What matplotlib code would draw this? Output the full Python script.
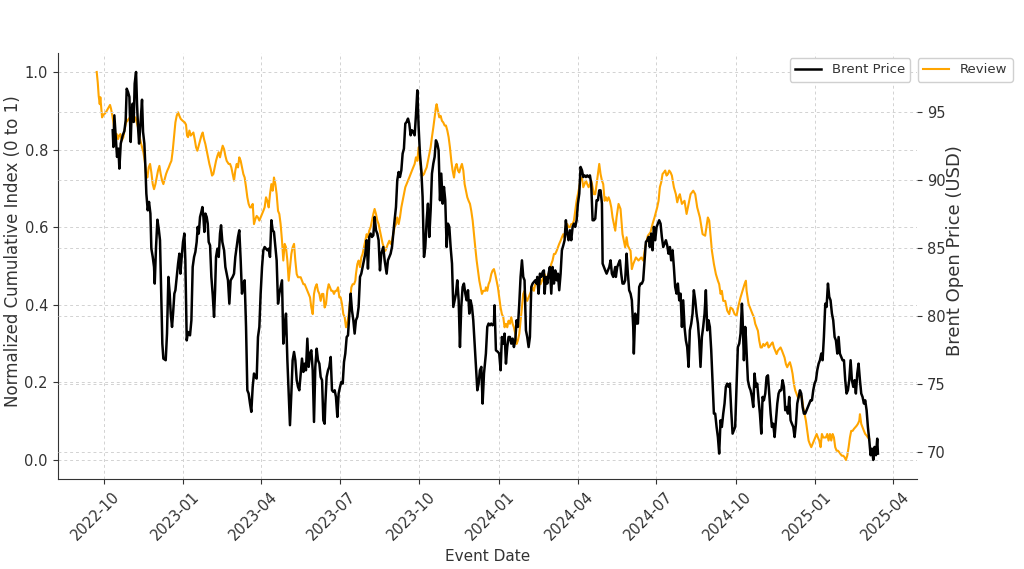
import matplotlib
matplotlib.use("Agg")
import matplotlib.pyplot as plt
import matplotlib.dates as mdates
import matplotlib.transforms as mtransforms
import pandas as pd

# ---------------- data ----------------
BASE_DATE = "2022-10-01"   # day offsets below are counted from this date

brent_day = [
    10.4, 11.2, 12.3, 13.9, 15.4, 17.0, 18.1, 19.7, 22.0, 23.9, 25.4, 26.6, 28.1, 29.7, 31.2, 32.4,
    33.5, 34.7, 35.8, 37.4, 38.5, 39.7, 40.9, 42.4, 44.3, 45.5, 47.0, 48.2, 49.3, 50.9, 52.4, 54.0,
    55.1, 56.7, 58.2, 59.0, 60.5, 62.1, 63.6, 65.1, 66.7, 67.8, 69.0, 71.7, 73.2, 74.8, 76.3, 77.5,
    79.0, 80.2, 81.7, 82.9, 84.4, 86.0, 87.5, 88.7, 90.2, 91.7, 93.3, 94.4, 96.0, 97.5, 99.8, 101.4,
    102.9, 104.5, 106.0, 107.5, 108.7, 109.9, 111.4, 112.9, 114.1, 115.3, 116.4, 117.6, 119.1, 120.3,
    121.4, 123.0, 124.5, 126.1, 127.6, 128.8, 129.9, 131.5, 133.0, 134.5, 135.7, 137.2, 139.2, 140.7,
    143.7, 145.3, 146.8, 149.1, 150.7, 152.2, 153.8, 155.3, 156.8, 158.4, 159.9, 161.5, 163.0, 164.6,
    166.1, 167.6, 169.2, 170.7, 172.3, 173.8, 175.4, 176.9, 178.4, 180.0, 181.5, 183.1, 184.6, 186.1,
    187.7, 189.2, 190.8, 192.3, 193.9, 195.4, 196.9, 198.5, 200.0, 201.6, 203.1, 204.6, 206.2, 207.7,
    209.3, 210.8, 212.4, 213.9, 215.4, 217.0, 218.5, 220.1, 221.6, 223.2, 224.7, 226.2, 227.8, 229.3,
    230.9, 232.4, 233.9, 235.5, 237.0, 238.6, 240.1, 241.7, 243.2, 244.7, 246.3, 247.8, 249.4, 250.9,
    252.5, 254.0, 255.5, 256.3, 257.8, 259.4, 260.9, 262.5, 264.0, 265.6, 267.1, 268.6, 270.2, 271.7,
    273.3, 274.8, 276.4, 277.9, 279.4, 281.0, 282.5, 284.1, 285.6, 287.1, 288.7, 290.2,
    291.7, 293.3, 294.8, 296.4, 297.9, 299.4, 301.0, 302.5, 304.1, 305.6, 307.1, 308.7, 310.2, 311.8,
    313.3, 314.9, 316.4, 317.9, 319.5, 321.0, 323.3, 324.9, 327.2, 328.7, 330.3, 331.8, 333.4, 334.9,
    336.4, 338.0, 339.5, 341.1, 342.6, 344.2, 345.7, 347.2, 348.8, 350.3, 351.9, 353.4, 354.9, 356.5,
    358.0, 359.6, 361.1, 362.7, 364.2, 365.7, 367.3, 368.8, 370.4, 371.9, 373.5, 375.0, 376.5, 378.1,
    379.6, 381.2, 382.7, 384.2, 385.8, 387.3, 388.9, 390.4, 392.0, 393.5, 395.0, 396.6, 398.1, 399.7,
    401.2, 402.8, 404.3, 405.8, 407.4, 408.9, 410.5, 412.0, 413.5, 415.1, 416.6, 418.2, 419.7, 421.3,
    422.8, 424.3, 425.9, 427.4, 429.0, 430.5, 432.1, 433.6, 435.1, 436.7, 438.2, 439.8, 441.3,
    442.0, 443.6, 445.1, 446.7, 448.2, 449.7, 451.3, 452.0, 453.6, 455.9, 457.4, 459.0, 460.5, 462.1,
    463.6, 465.2, 466.7, 468.2, 469.8, 471.3, 472.9, 474.4, 476.0, 477.5, 479.0, 480.6, 482.1, 483.7,
    485.2, 486.7, 488.3, 489.8, 491.4, 492.9, 494.5, 496.0, 497.5, 499.1, 500.6, 501.4, 502.9, 504.5,
    506.0, 507.6, 509.1, 509.9, 511.4, 513.0, 514.5, 516.0, 517.6, 519.1, 520.7, 522.2, 523.8, 525.3,
    526.8, 528.4, 529.9, 531.5, 533.0, 534.5, 536.1, 537.6, 539.2, 540.7, 542.3, 543.8, 545.3, 546.9,
    548.4, 550.0, 551.5, 553.1, 554.6, 556.1, 557.7, 559.2, 560.8, 562.3, 563.8, 565.4, 566.9, 568.5,
    570.0, 571.6, 573.1, 574.6, 576.2, 577.0, 578.5, 580.0, 581.6, 583.1, 584.7, 586.2, 587.7, 589.3,
    591.6,
    592.3, 593.9, 595.4, 597.0, 598.5, 600.0, 601.6, 603.1, 604.7, 606.2, 607.7, 609.3, 610.8, 612.4,
    613.1, 614.7, 616.2, 617.8, 619.3, 620.9, 622.4, 623.9, 625.5, 627.0, 628.6, 630.1, 631.6, 633.2,
    634.7, 636.3, 637.8, 639.4, 640.9, 642.4, 644.0, 645.5, 647.1, 648.6, 650.2, 651.7, 653.2, 654.8,
    656.3, 657.9, 659.4, 660.9, 662.5, 664.0, 665.6, 667.1, 668.7, 670.2, 671.7, 673.3, 674.8, 676.4,
    677.9, 679.5, 681.0, 682.5, 684.1, 685.6, 687.2, 688.7, 690.2, 691.8, 693.3, 694.9, 696.4, 698.0,
    699.5, 701.0, 702.6, 704.1, 705.7, 707.2, 708.8, 710.3, 711.8, 713.4, 714.9, 716.5, 718.0, 719.5,
    721.1, 722.6, 724.2, 725.7, 727.3, 728.8, 730.3, 731.9, 733.4, 735.0, 736.5, 738.1, 738.8, 740.4,
    741.9,
    742.7, 745.0, 746.6, 748.1, 749.7, 751.2, 752.7, 754.3, 755.8, 757.4, 758.9, 760.5, 762.0, 763.5,
    765.1, 766.6, 768.2, 769.7, 771.3, 772.8, 774.3, 775.9, 777.4, 779.0, 780.5, 782.0, 783.6, 785.1,
    786.7, 788.2, 789.8, 791.3, 792.8, 794.4, 795.9, 797.5, 799.0, 800.6, 802.1, 803.6, 805.2, 806.7,
    808.3, 809.8, 811.3, 812.9, 814.4, 816.0, 817.5, 819.1, 820.6, 822.1, 823.7, 825.2, 826.8, 828.3,
    829.9, 831.4, 832.9, 834.5, 836.0, 837.6, 839.1, 840.6, 842.2, 843.7, 845.3, 846.8, 848.4, 849.9,
    851.4, 853.0, 854.5, 856.1, 857.6, 859.1, 860.7, 862.2, 863.8, 865.3, 866.9, 868.4, 869.9, 871.5,
    873.0, 874.6, 876.1, 877.6, 879.2, 880.7, 882.3, 883.8, 885.4, 886.9, 888.5, 890.0, 891.5, 893.1,
    894.6, 895.4,
]

brent_price = [
    93.66, 92.43, 94.76, 93.17, 91.70, 92.31, 90.84, 92.68, 93.29, 93.61, 94.39, 96.72, 96.48, 96.11, 92.80, 95.13,
    95.62, 94.27, 97.09, 97.95, 95.62, 93.90, 92.68, 94.02, 95.91, 93.54, 92.68, 90.96, 89.00, 87.77, 88.39, 87.53,
    84.95, 84.34, 83.60, 82.38, 85.07, 87.08, 86.42, 85.57, 81.15, 77.96, 76.86, 76.74, 78.70, 82.87, 81.64, 80.17,
    79.19, 80.17, 81.64, 81.89, 82.87, 83.85, 84.58, 83.11, 84.34, 85.44, 86.06, 84.09, 78.20, 78.82, 78.57, 79.68,
    83.60, 84.34, 84.71, 85.44, 86.55, 86.06, 87.28, 87.65, 88.01, 87.28, 86.18, 87.53, 87.28, 86.79,
    85.44, 85.19, 82.87, 81.52, 79.93, 81.89, 84.34, 84.95, 84.34, 86.06, 86.67, 85.44, 84.83, 83.60,
    82.62, 80.90, 82.62, 82.87, 83.11, 84.34, 85.07, 85.81, 86.30, 84.09, 81.64, 82.38, 82.62, 79.19,
    74.53, 74.29, 73.55, 72.94, 74.78, 75.76, 75.51, 75.39, 78.45, 79.19, 81.64, 83.60, 84.83, 85.07,
    84.95, 84.83, 84.95, 84.34, 87.04, 86.30, 86.18, 85.07, 84.09, 80.90, 81.64, 82.13, 82.62, 77.96,
    79.19, 80.17, 76.74, 74.29, 71.96, 74.29, 76.74, 77.35, 76.74, 75.27, 74.78, 74.53, 75.76, 76.86,
    75.88, 76.49, 76.00, 78.33, 76.25, 77.23, 77.47, 76.00, 72.20, 76.25, 77.59, 76.74, 76.49, 75.51,
    75.27, 72.32, 72.07, 73.55, 75.51, 76.00, 76.25, 76.98, 74.53, 74.41, 74.53, 74.04, 72.57, 74.29,
    74.78, 75.14, 75.02, 76.61, 77.23, 78.45, 78.57, 80.17, 81.64, 80.41, 79.68, 78.70,
    79.68, 79.93, 80.66, 82.87, 83.11, 83.60, 84.09, 84.58, 85.57, 83.48, 85.81, 86.06, 85.81, 85.93,
    87.28, 86.30, 86.06, 85.57, 83.35, 84.58, 85.07, 84.09, 83.11, 84.09, 84.34, 84.58, 85.07, 86.06,
    87.04, 88.01, 89.98, 90.59, 90.22, 90.71, 91.94, 92.31, 94.15, 94.27, 94.52, 94.15, 93.29, 93.66,
    93.54, 93.29, 94.76, 96.60, 93.90, 91.94, 90.71, 88.75, 84.34, 85.07, 87.04, 88.26, 85.81, 87.77,
    90.47, 91.21, 91.70, 92.92, 92.68, 92.19, 88.51, 90.47, 88.26, 89.49, 88.51, 85.07, 86.79, 86.55,
    85.07, 83.85, 80.66, 81.15, 81.64, 82.62, 81.15, 77.71, 80.66, 82.13, 82.38, 81.64, 81.15, 81.89,
    80.17, 81.15, 80.66, 79.68, 77.96, 76.25, 74.53, 75.02, 76.00, 76.25, 73.55, 75.76, 76.74,
    77.23, 79.19, 79.44, 79.31, 79.44, 79.31, 79.44, 80.78, 77.47, 77.35, 77.23, 76.00, 78.45, 77.96,
    78.70, 76.49, 77.71, 78.45, 78.45, 77.96, 78.33, 77.71, 78.20, 79.68, 79.19, 80.90, 82.87, 84.09,
    82.87, 82.62, 78.94, 78.45, 77.71, 78.45, 82.13, 82.38, 82.50, 82.62, 82.38, 82.87, 81.64, 83.11,
    82.87, 83.23, 83.35, 81.64, 82.87, 82.38, 83.11, 83.60, 81.64, 83.60, 82.38, 83.35, 82.62, 83.11,
    81.89, 83.11, 84.83, 85.19, 85.57, 87.04, 86.06, 85.57, 86.30, 85.57, 86.55, 86.79, 86.55, 87.04,
    88.26, 89.00, 90.96, 90.71, 90.22, 90.34, 90.22, 90.34, 90.22, 90.34, 89.73, 87.04, 87.04, 87.16,
    88.51, 88.51, 89.24, 89.24, 88.26, 83.85, 83.60, 83.35, 83.11, 83.35, 83.60, 84.09, 83.11, 82.87,
    83.60,
    82.87, 83.60, 83.85, 84.09, 83.11, 82.38, 82.38, 82.62, 84.58, 83.11, 81.89, 81.64, 81.15, 79.19,
    77.23, 80.17, 79.44, 79.44, 82.13, 82.38, 82.38, 82.62, 84.09, 85.44, 85.57, 85.81, 85.07, 86.06,
    84.83, 86.55, 85.57, 86.55, 86.79, 87.04, 86.79, 85.81, 85.07, 85.32, 85.57, 85.19, 84.58, 85.07,
    84.09, 84.83, 83.60, 82.13, 81.64, 82.38, 81.15, 81.64, 79.19, 81.15, 79.19, 78.20, 77.71, 76.25,
    78.94, 79.44, 80.17, 81.89, 81.15, 80.17, 79.44, 78.20, 76.25, 78.45, 79.19, 80.17, 81.89, 78.94,
    79.68, 79.19, 77.47, 75.27, 72.81, 72.81, 71.83, 71.09, 69.87, 72.32, 71.83, 72.81, 73.55, 74.78,
    75.02, 74.78, 75.02, 73.06, 71.34, 71.58, 71.83, 74.78, 77.71, 77.96, 78.70, 80.90, 79.93, 76.74,
    79.19,
    78.45, 75.27, 74.78, 74.53, 74.04, 73.30, 75.76, 74.78, 75.02, 73.79, 72.81, 71.34, 74.04, 73.79,
    74.29, 75.51, 75.63, 74.29, 72.81, 71.83, 72.07, 71.09, 72.32, 73.55, 74.29, 74.53, 74.53, 75.27,
    74.78, 73.06, 73.30, 72.81, 74.04, 72.32, 72.07, 71.83, 71.09, 72.07, 73.55, 74.04, 74.53, 74.29,
    73.30, 72.81, 72.81, 73.06, 73.30, 73.55, 73.79, 73.79, 74.53, 75.02, 75.27, 76.00, 76.49, 76.74,
    77.23, 76.74, 78.45, 80.90, 80.66, 82.38, 81.40, 81.15, 80.17, 79.68, 78.45, 78.20, 77.23, 78.45,
    77.23, 76.98, 76.74, 76.74, 75.27, 74.29, 74.53, 75.27, 76.74, 75.27, 74.78, 75.27, 74.29, 75.76,
    76.49, 75.27, 74.29, 74.04, 73.55, 73.79, 73.06, 71.83, 70.85, 69.75, 70.23, 69.40, 70.36, 69.75,
    70.97, 69.87,
]

review_day = [
    -8.1, -6.9, -5.8, -4.6, -3.9, -3.1, -1.9, -0.4, 1.5, 3.5, 5.8, 7.3, 8.5, 10.0, 11.2, 12.3, 13.5,
    15.0, 16.6, 17.7, 19.3, 20.8, 22.7, 24.3, 25.8, 27.4, 28.9, 30.5, 32.0, 33.5, 35.1, 36.6, 38.2,
    39.7, 41.2, 42.8, 44.3, 45.9, 47.4, 49.0, 50.5, 52.0, 53.6, 55.1, 56.7, 58.2, 59.8, 61.3, 62.8,
    64.4, 65.9, 67.5, 69.0, 70.5, 72.1, 73.6, 75.2, 76.7, 78.3, 79.8, 81.3, 82.9, 84.4, 86.0, 87.5,
    89.1, 91.4, 93.7, 95.2, 96.4, 97.5, 99.1, 100.6, 102.2, 103.7, 105.2, 106.8, 108.3, 109.9, 111.4,
    113.0, 114.5, 116.0, 117.6, 119.1, 120.7, 122.2, 123.7, 125.3, 126.8, 128.4, 129.9, 131.5, 133.0,
    134.5, 136.1, 137.6, 139.2, 140.7,
    142.2, 144.5, 146.1, 147.6, 149.1, 150.7, 152.2, 153.8, 155.3, 156.8, 158.4, 159.9, 161.5, 163.0,
    164.6, 166.1, 167.6, 169.2, 170.7, 172.3, 173.8, 175.4, 176.9, 178.4, 180.0, 181.5, 183.1, 184.6,
    186.1, 187.7, 189.2, 190.8, 192.3, 193.9, 195.4, 196.9, 198.5, 200.0, 201.6, 203.1, 204.6, 206.2,
    207.7, 209.3, 210.8, 212.4, 213.9, 215.4, 217.0, 218.5, 220.1, 221.6, 223.2, 224.7, 226.2, 227.8,
    229.3, 230.9, 232.4, 233.9, 235.5, 237.0, 238.6, 240.1, 241.7, 243.2, 244.7, 246.3, 247.8, 249.4,
    250.9, 252.5, 254.0, 255.5, 257.1, 258.6, 260.2, 261.7, 263.2, 264.8, 266.3, 267.9, 269.4, 271.0,
    272.5, 274.0, 275.6, 277.1, 278.7, 280.2, 281.7, 283.3, 284.8, 286.4, 287.9, 289.5, 291.0,
    291.7, 293.3, 294.8, 296.4, 297.9, 299.4, 301.0, 302.5, 304.1, 305.6, 307.1, 308.7, 310.2, 311.8,
    313.3, 314.9, 316.4, 317.9, 319.5, 321.0, 322.6, 324.1, 325.7, 327.2, 328.7, 330.3, 331.8, 333.4,
    334.9, 336.4, 338.0, 339.5, 341.1, 342.6, 344.2, 345.7, 347.2, 348.8, 350.3, 351.9, 353.4, 354.9,
    356.5, 358.0, 359.6, 361.1, 362.7, 364.2, 365.7, 367.3, 368.8, 370.4, 371.9, 373.5, 375.0, 376.5,
    378.1, 379.6, 381.2, 382.7, 384.2, 385.0, 386.6, 388.1, 389.6, 391.2, 392.7, 394.3, 395.8, 397.4,
    398.9, 400.4, 402.0, 403.5, 405.1, 406.6, 408.1, 409.7, 411.2, 412.8, 414.3, 415.9, 417.4, 418.9,
    420.5, 422.0, 423.6, 425.1, 426.7, 428.2, 429.7, 431.3, 432.8, 434.4, 435.9, 437.4, 439.0, 441.3,
    442.0, 443.6, 445.1, 446.7, 448.2, 449.7, 451.3, 452.8, 454.4, 455.9, 457.4, 459.0, 460.5, 462.1,
    463.6, 465.2, 466.7, 468.2, 469.8, 471.3, 472.9, 474.4, 476.0, 477.5, 479.0, 480.6, 482.1, 483.7,
    485.2, 486.7, 488.3, 489.8, 491.4, 492.9, 494.5, 496.0, 497.5, 499.1, 500.6, 502.2, 503.7, 505.2,
    506.8, 508.3, 509.9, 511.4, 513.0, 514.5, 516.0, 517.6, 519.1, 520.7, 522.2, 523.8, 525.3, 526.8,
    528.4, 529.9, 531.5, 533.0, 534.5, 536.1, 537.6, 539.2, 540.7, 542.3, 543.8, 545.3, 546.9, 548.4,
    550.0, 551.5, 553.1, 554.6, 556.1, 557.7, 559.2, 560.8, 562.3, 563.8, 565.4, 566.9, 568.5, 570.0,
    571.6, 573.1, 574.6, 576.2, 577.7, 579.3, 580.8, 582.3, 583.9, 585.4, 587.0, 588.5, 590.1, 591.6,
    593.1, 595.4, 597.7, 600.0, 603.1, 604.7, 606.2, 609.3, 610.8, 612.4, 615.5, 618.5, 621.6, 623.9,
    626.2, 629.3, 632.4, 634.7, 637.0, 640.1, 641.7, 643.2, 644.8, 646.3, 647.8, 649.4, 650.9, 652.5,
    654.0, 655.6, 657.1, 659.4, 661.7, 663.3, 664.8, 666.3, 668.7, 671.7, 674.1, 675.6, 678.7, 681.8,
    684.1, 686.4, 689.5, 692.6, 695.6, 698.7, 700.3, 703.4, 705.7, 708.0, 710.3, 711.8, 713.4, 714.9,
    716.5, 718.8, 721.1, 723.4, 724.9, 727.3, 729.6, 731.9, 734.2, 736.5, 738.8, 741.1, 742.7,
    743.5, 745.8, 747.4, 748.9, 750.4, 752.0, 753.5, 755.1, 756.6, 758.1, 759.7, 761.2, 762.8, 764.3,
    765.9, 767.4, 768.9, 770.5, 772.0, 773.6, 775.1, 776.6, 778.2, 779.7, 781.3, 782.8, 784.4, 785.9,
    787.4, 789.0, 790.5, 792.1, 793.6, 795.2, 796.7, 798.2, 799.8, 801.3, 802.9, 804.4, 805.9, 807.5,
    809.0, 810.6, 812.1, 813.7, 815.2, 816.7, 818.3, 819.8, 821.4, 822.9, 824.5, 826.0, 827.5, 829.1,
    830.6, 832.2, 833.7, 835.2, 836.8, 838.3, 839.9, 841.4, 843.0, 844.5, 846.0, 847.6, 849.1, 850.7,
    852.2, 853.7, 855.3, 856.8, 858.4, 859.9, 861.5, 863.0, 864.5, 866.1, 867.6, 869.2, 870.7, 872.2,
    873.8, 874.6, 876.1, 877.6, 879.2, 880.7, 882.3, 883.8, 885.4,
]

review_index = [
    1.000, 0.973, 0.938, 0.917, 0.935, 0.913, 0.883, 0.890, 0.893, 0.900, 0.909, 0.915, 0.905, 0.887, 0.870, 0.849, 0.840,
    0.840, 0.827, 0.836, 0.840, 0.823, 0.832, 0.853, 0.870, 0.874, 0.879, 0.883, 0.870, 0.887, 0.879, 0.883, 0.870,
    0.857, 0.836, 0.819, 0.806, 0.793, 0.771, 0.737, 0.728, 0.754, 0.763, 0.741, 0.711, 0.698, 0.711, 0.728, 0.746,
    0.758, 0.737, 0.720, 0.711, 0.724, 0.737, 0.746, 0.754, 0.763, 0.771, 0.797, 0.832, 0.870, 0.887, 0.896, 0.887,
    0.879, 0.874, 0.870, 0.864, 0.836, 0.832, 0.849, 0.836, 0.840, 0.844, 0.827, 0.806, 0.797, 0.810, 0.823,
    0.836, 0.844, 0.827, 0.814, 0.797, 0.780, 0.763, 0.750, 0.733, 0.737, 0.754, 0.771, 0.784, 0.793,
    0.780, 0.797, 0.810, 0.801, 0.784,
    0.771, 0.763, 0.763, 0.754, 0.737, 0.720, 0.746, 0.763, 0.754, 0.780, 0.771, 0.754, 0.737, 0.728,
    0.703, 0.677, 0.660, 0.651, 0.651, 0.660, 0.608, 0.621, 0.629, 0.625, 0.617, 0.625, 0.634, 0.642,
    0.651, 0.677, 0.668, 0.651, 0.685, 0.711, 0.694, 0.728, 0.711, 0.685, 0.642, 0.634, 0.608, 0.565,
    0.514, 0.557, 0.548, 0.514, 0.462, 0.496, 0.531, 0.548, 0.557, 0.514, 0.479, 0.471, 0.471, 0.471,
    0.462, 0.453, 0.453, 0.445, 0.436, 0.428, 0.419, 0.393, 0.376, 0.428, 0.445, 0.453, 0.436, 0.428,
    0.410, 0.428, 0.428, 0.393, 0.402, 0.436, 0.453, 0.445, 0.436, 0.436, 0.428, 0.436, 0.436, 0.445,
    0.419, 0.419, 0.402, 0.376, 0.368, 0.342, 0.351, 0.376, 0.410, 0.445, 0.453, 0.453, 0.462,
    0.479, 0.505, 0.514, 0.497, 0.522, 0.531, 0.548, 0.565, 0.582, 0.574, 0.591, 0.600, 0.617, 0.634,
    0.647, 0.634, 0.617, 0.608, 0.591, 0.574, 0.557, 0.548, 0.539, 0.548, 0.557, 0.565, 0.557, 0.565,
    0.582, 0.600, 0.608, 0.625, 0.608, 0.625, 0.651, 0.668, 0.685, 0.703, 0.711, 0.720, 0.728, 0.737,
    0.746, 0.754, 0.763, 0.780, 0.771, 0.806, 0.771, 0.746, 0.733, 0.737, 0.746, 0.754, 0.771, 0.789,
    0.806, 0.832, 0.857, 0.883, 0.909, 0.917, 0.900, 0.883, 0.887, 0.874, 0.870, 0.862, 0.862, 0.849,
    0.832, 0.806, 0.771, 0.746, 0.728, 0.754, 0.763, 0.746, 0.741, 0.754, 0.763, 0.746, 0.711, 0.694,
    0.677, 0.668, 0.660, 0.642, 0.617, 0.582, 0.548, 0.514, 0.488, 0.462, 0.445, 0.428, 0.436, 0.436,
    0.445, 0.436, 0.453, 0.462, 0.479, 0.488, 0.492, 0.479, 0.462, 0.445, 0.419, 0.393, 0.376, 0.368,
    0.342, 0.351, 0.342, 0.359, 0.351, 0.368, 0.351, 0.342, 0.325, 0.299, 0.308, 0.325, 0.359, 0.393,
    0.428, 0.436, 0.419, 0.410, 0.419, 0.428, 0.436, 0.445, 0.436, 0.453, 0.453, 0.462, 0.471, 0.453,
    0.462, 0.471, 0.479, 0.471, 0.462, 0.479, 0.488, 0.505, 0.514, 0.531, 0.531, 0.539, 0.548, 0.557,
    0.565, 0.574, 0.582, 0.574, 0.600, 0.608, 0.600, 0.600, 0.608, 0.608, 0.617, 0.642, 0.668, 0.685,
    0.703, 0.728, 0.728, 0.703, 0.711, 0.720, 0.711, 0.703, 0.711, 0.720, 0.703, 0.685, 0.685, 0.711,
    0.737, 0.763, 0.737, 0.720, 0.711, 0.668, 0.677, 0.668, 0.677, 0.668, 0.651, 0.625, 0.608, 0.591,
    0.625, 0.660, 0.647, 0.582, 0.548, 0.574, 0.552, 0.539, 0.492, 0.505, 0.522, 0.514, 0.522, 0.514,
    0.548, 0.578, 0.587, 0.608, 0.625, 0.651, 0.668, 0.703, 0.716, 0.737, 0.741, 0.746, 0.733, 0.737,
    0.746, 0.741, 0.733, 0.703, 0.685, 0.664, 0.677, 0.685, 0.660, 0.668, 0.634, 0.651, 0.685, 0.694,
    0.685, 0.651, 0.625, 0.582, 0.578, 0.625, 0.617, 0.539, 0.505, 0.479, 0.462, 0.453, 0.428, 0.436,
    0.410, 0.410, 0.385, 0.376, 0.393, 0.389, 0.376, 0.372, 0.398, 0.419, 0.436, 0.453, 0.462,
    0.436, 0.402, 0.393, 0.385, 0.376, 0.368, 0.351, 0.342, 0.333, 0.308, 0.290, 0.290, 0.299, 0.294,
    0.299, 0.303, 0.290, 0.294, 0.299, 0.303, 0.290, 0.282, 0.273, 0.282, 0.286, 0.290, 0.282, 0.273,
    0.264, 0.247, 0.239, 0.247, 0.252, 0.239, 0.222, 0.196, 0.179, 0.170, 0.161, 0.161, 0.170, 0.161,
    0.136, 0.118, 0.101, 0.075, 0.050, 0.041, 0.033, 0.041, 0.050, 0.058, 0.067, 0.058, 0.050, 0.033,
    0.067, 0.058, 0.058, 0.058, 0.067, 0.050, 0.067, 0.050, 0.067, 0.058, 0.033, 0.024, 0.024, 0.020,
    0.015, 0.011, 0.011, 0.007, 0.000, 0.011, 0.033, 0.058, 0.075, 0.075, 0.080, 0.084, 0.088, 0.093,
    0.101, 0.118, 0.093, 0.084, 0.075, 0.067, 0.063, 0.058, 0.054,
]

x_label = "Event Date"
left_label = "Normalized Cumulative Index (0 to 1)"
right_label = "Brent Open Price (USD)"
brent_name = "Brent Price"
review_name = "Review"

# ---------------- drawing ----------------
base = pd.Timestamp(BASE_DATE)
brent_dates = base + pd.to_timedelta(brent_day, unit="D")
review_dates = base + pd.to_timedelta(review_day, unit="D")

TXT = "#333333"
plt.rcParams.update({
    "font.family": ["DejaVu Sans"],
    "text.color": TXT,
    "axes.labelcolor": TXT,
    "xtick.color": TXT,
    "ytick.color": TXT,
    "axes.edgecolor": TXT,
})

fig = plt.figure(figsize=(10.24, 5.69), dpi=100)
ax = fig.add_axes([0.0563, 0.1575, 0.8392, 0.7501])
ax2 = ax.twinx()

l_rev, = ax.plot(review_dates, review_index, color="orange", lw=1.5, label=review_name)
l_brent, = ax2.plot(brent_dates, brent_price, color="black", lw=1.8, label=brent_name)

ax.set_xlabel(x_label, fontsize=11)
ax.set_ylabel(left_label, fontsize=12)
ax2.set_ylabel(right_label, fontsize=13)
ax.yaxis.set_label_coords(-0.041, 0.535)
ax2.yaxis.set_label_coords(1.034, 0.535)

ax.xaxis.set_major_locator(mdates.MonthLocator(bymonth=[1, 4, 7, 10]))
ax.xaxis.set_major_formatter(mdates.DateFormatter("%Y-%m"))
ax.tick_params(axis="both", labelsize=10.5)
ax2.tick_params(axis="y", labelsize=10.5)
ax.set_yticks([0.0, 0.2, 0.4, 0.6, 0.8, 1.0])
ax2.set_yticks([70, 75, 80, 85, 90, 95])

shift = mtransforms.ScaledTranslation(-0.08, 0, fig.dpi_scale_trans)
for lab in ax.get_xticklabels():
    lab.set_rotation(45)
    lab.set_transform(lab.get_transform() + shift)

grid_kw = dict(linestyle=(0, (3, 3)), color="#d2d2d2", linewidth=0.7)
ax.grid(True, **grid_kw)
ax2.grid(True, axis="y", **grid_kw)
ax.set_axisbelow(True)

for sp in ("top", "right"):
    ax.spines[sp].set_visible(False)
for sp in ("top", "right", "left", "bottom"):
    ax2.spines[sp].set_visible(False)

leg_kw = dict(loc="upper right", fontsize=9.5, frameon=True, borderaxespad=0.0,
              fancybox=True, framealpha=1.0, edgecolor="#d0d0d0")
fig.legend(handles=[l_brent], bbox_to_anchor=(0.889, 0.898), **leg_kw)
fig.legend(handles=[l_rev], bbox_to_anchor=(0.989, 0.898), **leg_kw)

fig.savefig("out.png", dpi=100)
